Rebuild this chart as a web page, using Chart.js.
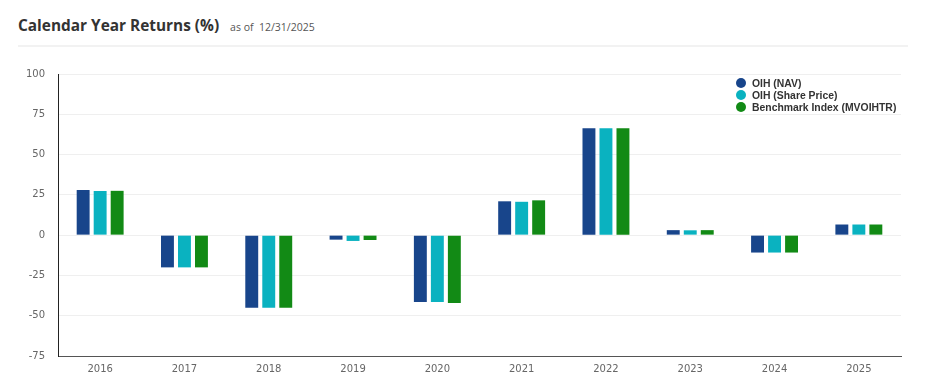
<!DOCTYPE html>
<html>
<head>
<meta charset="utf-8">
<script src="https://cdn.jsdelivr.net/npm/chart.js@4"></script>
<style>
  html, body { margin: 0; padding: 0; background: #fff; }
  body { width: 936px; height: 390px; position: relative; overflow: hidden; font-family: "Open Sans", sans-serif; }
  .title { position: absolute; left: 18px; top: 14px; color: #333; }
  .title h2 { display: inline; font-size: 15.4px; font-weight: 700; margin: 0; }
  .title span { font-size: 10.5px; color: #555; margin-left: 11px; }
  .rule { position: absolute; left: 18px; top: 45px; width: 890px; height: 2px; background: #f2f2f2; }
  .chart-wrap { position: absolute; left: 0; top: 50px; width: 936px; height: 340px; }
  #legend { position: absolute; left: 736px; top: 78px; font-family: "Liberation Sans", sans-serif; font-size: 10.4px; font-weight: bold; color: #333; line-height: 12px; }
  #legend div { white-space: nowrap; }
  #legend i { display: inline-block; width: 10px; height: 10px; border-radius: 50%; margin-right: 6px; vertical-align: -1px; }
</style>
</head>
<body>
<div class="title"><h2>Calendar Year Returns (%)</h2><span>as of &nbsp;12/31/2025</span></div>
<div class="rule"></div>
<div class="chart-wrap"><canvas id="returnsChart"></canvas></div>
<div id="legend"></div>
<script>
// ---- data ----
const years = ['2016', '2017', '2018', '2019', '2020', '2021', '2022', '2023', '2024', '2025'];
const navReturns = [28.0, -20.0, -45.0, -2.8, -41.5, 21.0, 66.4, 3.1, -10.8, 6.6];
const priceReturns = [27.4, -20.0, -45.0, -3.6, -41.5, 20.7, 66.4, 3.0, -10.8, 6.6];
const benchReturns = [27.5, -20.0, -45.0, -3.0, -42.1, 21.6, 66.4, 3.1, -10.8, 6.6];
const seriesNames = ['OIH (NAV)', 'OIH (Share Price)', 'Benchmark Index (MVOIHTR)'];
const seriesColors = ['#18458B', '#0AB2C0', '#128A15'];
const yTicks = [-75, -50, -25, 0, 25, 50, 75, 100];

const ctx = document.getElementById('returnsChart').getContext('2d');

const datasets = [navReturns, priceReturns, benchReturns].map((vals, i) => ({
  label: seriesNames[i],
  data: vals,
  backgroundColor: seriesColors[i],
  borderWidth: 0,
  categoryPercentage: 0.605,
  barPercentage: 0.76,
}));

new Chart(ctx, {
  type: 'bar',
  data: { labels: years, datasets: datasets },
  options: {
    responsive: true,
    maintainAspectRatio: false,
    animation: false,
    layout: { padding: { top: 24, right: 35, left: 0, bottom: 0 } },
    plugins: {
      legend: { display: false },
      tooltip: { enabled: false }
    },
    scales: {
      x: {
        grid: { display: false, drawTicks: false },
        border: { display: true, color: '#555', width: 1 },
        ticks: {
          color: '#666',
          font: { family: 'DejaVu Sans', size: 10 },
          padding: 7,
        },
        afterFit: function(scale) { scale.height = 34; }
      },
      y: {
        min: -75,
        max: 100,
        afterBuildTicks: function(scale) { scale.ticks = yTicks.map(v => ({ value: v })); },
        grid: { color: '#efefef', lineWidth: 1, drawTicks: false },
        border: { display: true, color: '#222', width: 1 },
        ticks: {
          color: '#666',
          font: { family: 'DejaVu Sans', size: 10 },
          padding: 13,
        },
        afterFit: function(scale) { scale.width = 58; }
      }
    }
  }
});

// html legend
const legend = document.getElementById('legend');
seriesNames.forEach((name, i) => {
  const row = document.createElement('div');
  const dot = document.createElement('i');
  dot.style.background = seriesColors[i];
  row.appendChild(dot);
  row.appendChild(document.createTextNode(name));
  legend.appendChild(row);
});
</script>
</body>
</html>
